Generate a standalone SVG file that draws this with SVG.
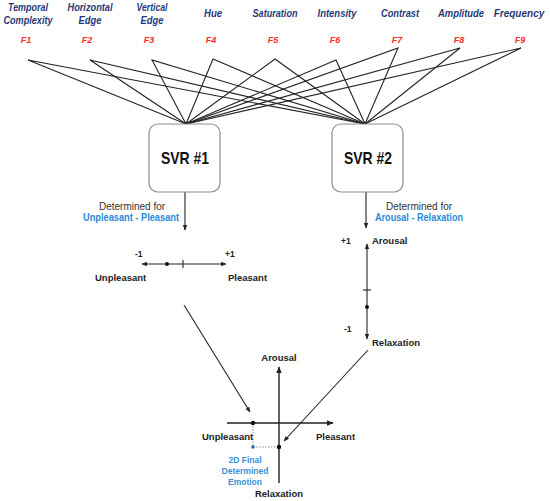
<svg xmlns="http://www.w3.org/2000/svg" width="550" height="501" viewBox="0 0 550 501">
<style>
.feat{font-family:"Liberation Sans",Arial,sans-serif;font-size:11.5px;font-weight:bold;font-style:italic;fill:#1f3a78;text-anchor:middle}
.fl{font-family:"Liberation Sans",Arial,sans-serif;font-size:9px;font-weight:bold;font-style:italic;fill:#ff2a2a;text-anchor:middle}
.svr{font-family:"Liberation Sans",Arial,sans-serif;font-size:17px;font-weight:bold;fill:#111;text-anchor:middle}
.box{fill:#fff;stroke:#8c8c8c;stroke-width:1.2}
.det{font-family:"Liberation Sans",Arial,sans-serif;font-size:10px;fill:#333;text-anchor:middle}
.blue{font-family:"Liberation Sans",Arial,sans-serif;font-size:10.5px;font-weight:bold;fill:#2a8ad8;text-anchor:middle}
.ax{font-family:"Liberation Sans",Arial,sans-serif;font-size:9.5px;font-weight:bold;fill:#222}
.num{font-family:"Liberation Sans",Arial,sans-serif;font-size:8.5px;font-weight:bold;fill:#222}
.em{font-family:"Liberation Sans",Arial,sans-serif;font-size:8.5px;font-weight:bold;fill:#3a8fd8;text-anchor:middle}
.ln{stroke:#222;stroke-width:1.1;fill:none}
.axl{stroke:#222;stroke-width:1.4;fill:none}
</style>
<defs>
<marker id="ah" viewBox="0 0 10 10" refX="9" refY="5" markerWidth="5" markerHeight="5" orient="auto-start-reverse">
<path d="M0,1 L10,5 L0,9 z" fill="#222"/>
</marker>
</defs>
<rect width="550" height="501" fill="#fff"/>

<g id="features">
<text class="feat" x="28" y="11" textLength="40" lengthAdjust="spacingAndGlyphs">Temporal</text>
<text class="feat" x="28" y="24" textLength="49" lengthAdjust="spacingAndGlyphs">Complexity</text>
<text class="feat" x="90" y="11" textLength="45" lengthAdjust="spacingAndGlyphs">Horizontal</text>
<text class="feat" x="90" y="24" textLength="23" lengthAdjust="spacingAndGlyphs">Edge</text>
<text class="feat" x="152" y="11" textLength="31" lengthAdjust="spacingAndGlyphs">Vertical</text>
<text class="feat" x="152" y="24" textLength="23" lengthAdjust="spacingAndGlyphs">Edge</text>
<text class="feat" x="213" y="17" textLength="18" lengthAdjust="spacingAndGlyphs">Hue</text>
<text class="feat" x="275" y="17" textLength="45" lengthAdjust="spacingAndGlyphs">Saturation</text>
<text class="feat" x="337" y="17" textLength="39" lengthAdjust="spacingAndGlyphs">Intensity</text>
<text class="feat" x="400" y="17" textLength="38" lengthAdjust="spacingAndGlyphs">Contrast</text>
<text class="feat" x="461" y="17" textLength="46" lengthAdjust="spacingAndGlyphs">Amplitude</text>
<text class="feat" x="519" y="17" style="font-size:10px">Frequency</text>
<text class="fl" x="26" y="43">F1</text>
<text class="fl" x="87" y="43">F2</text>
<text class="fl" x="149" y="43">F3</text>
<text class="fl" x="211" y="43">F4</text>
<text class="fl" x="273" y="43">F5</text>
<text class="fl" x="335" y="43">F6</text>
<text class="fl" x="397" y="43">F7</text>
<text class="fl" x="459" y="43">F8</text>
<text class="fl" x="520" y="43">F9</text>
</g>

<g id="connectors">
<g class="ln">
<path d="M186,124 L28,60 L365,124"/>
<path d="M186,124 L90,60 L365,124"/>
<path d="M186,124 L152,60 L365,124"/>
<path d="M186,124 L213,59 L365,124"/>
<path d="M186,124 L275,59 L365,124"/>
<path d="M186,124 L336,60 L365,124"/>
<path d="M186,124 L398,48 L365,124"/>
<path d="M186,124 L460,48 L365,124"/>
<path d="M186,124 L521,48 L365,124"/>
</g>
<circle cx="186" cy="124" r="2" fill="#111"/>
<circle cx="365" cy="124" r="2" fill="#111"/>
<line class="ln" x1="185" y1="192" x2="185" y2="230" marker-end="url(#ah)"/>
<line class="ln" x1="366" y1="192" x2="366" y2="228" marker-end="url(#ah)"/>
<line class="ln" x1="184" y1="305" x2="250" y2="412" marker-end="url(#ah)"/>
<line class="ln" x1="368" y1="350" x2="284" y2="441" marker-end="url(#ah)"/>
</g>

<g id="svr1">
<rect class="box" x="149" y="124" width="71" height="68" rx="9"/>
<text class="svr" x="185" y="164" textLength="48" lengthAdjust="spacingAndGlyphs">SVR #1</text>
<text class="det" x="132" y="210">Determined for</text>
<text class="blue" x="131" y="221" textLength="96" lengthAdjust="spacingAndGlyphs">Unpleasant - Pleasant</text>
</g>

<g id="svr2">
<rect class="box" x="332" y="124" width="71" height="68" rx="9"/>
<text class="svr" x="368" y="164" textLength="48" lengthAdjust="spacingAndGlyphs">SVR #2</text>
<text class="det" x="419" y="210">Determined for</text>
<text class="blue" x="419" y="221" textLength="88" lengthAdjust="spacingAndGlyphs">Arousal - Relaxation</text>
</g>

<g id="valence-axis">
<line class="ln" x1="142" y1="264" x2="226" y2="264" marker-start="url(#ah)" marker-end="url(#ah)"/>
<line class="ln" x1="183" y1="260" x2="183" y2="268"/>
<circle cx="167" cy="264" r="2" fill="#111"/>
<text class="num" x="135" y="257">-1</text>
<text class="num" x="225" y="257">+1</text>
<text class="ax" x="95" y="281">Unpleasant</text>
<text class="ax" x="228" y="281">Pleasant</text>
</g>

<g id="arousal-axis">
<line class="ln" x1="367" y1="244" x2="367" y2="339" marker-start="url(#ah)" marker-end="url(#ah)"/>
<line class="ln" x1="363" y1="290" x2="371" y2="290"/>
<circle cx="367" cy="307" r="2" fill="#111"/>
<text class="num" x="341" y="244">+1</text>
<text class="num" x="344" y="332">-1</text>
<text class="ax" x="372" y="244">Arousal</text>
<text class="ax" x="372" y="346">Relaxation</text>
</g>

<g id="final-2d">
<line class="axl" x1="227" y1="423" x2="333" y2="423" marker-end="url(#ah)"/>
<line class="axl" x1="279" y1="483" x2="279" y2="367" marker-end="url(#ah)"/>
<line x1="253" y1="423" x2="253" y2="447" stroke="#777" stroke-width="0.8" stroke-dasharray="1.5,1.5"/>
<line x1="253" y1="447" x2="279" y2="447" stroke="#777" stroke-width="0.8" stroke-dasharray="1.5,1.5"/>
<circle cx="253" cy="423" r="2.2" fill="#111"/>
<circle cx="279" cy="447" r="2.2" fill="#111"/>
<circle cx="253" cy="447" r="1.8" fill="#2a6fb0"/>
<text class="ax" x="279" y="361" text-anchor="middle">Arousal</text>
<text class="ax" x="202" y="440">Unpleasant</text>
<text class="ax" x="316" y="440">Pleasant</text>
<text class="ax" x="279" y="497" text-anchor="middle">Relaxation</text>
<text class="em" x="245" y="463">2D Final</text>
<text class="em" x="245" y="474">Determined</text>
<text class="em" x="245" y="485">Emotion</text>
</g>
</svg>
